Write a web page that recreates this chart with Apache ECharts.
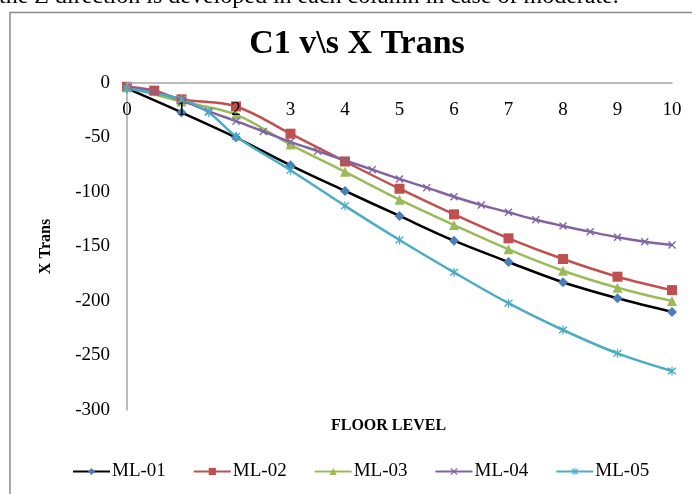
<!DOCTYPE html>
<html>
<head>
<meta charset="utf-8">
<script src="https://cdn.jsdelivr.net/npm/echarts@6/dist/echarts.min.js"></script>
<style>
  html, body { margin: 0; padding: 0; background: #fff; }
  #chart { width: 692px; height: 494px; }
</style>
</head>
<body>
<div id="chart"></div>
<script>
// Floor levels sampled by each model
const floorsML01 = [0, 1, 2, 3, 4, 5, 6, 7, 8, 9, 10];
const floorsML02 = [0, 0.5, 1, 2, 3, 4, 5, 6, 7, 8, 9, 10];
const floorsML03 = [0, 1, 2, 3, 4, 5, 6, 7, 8, 9, 10];
const floorsML04 = [0, 0.5, 1, 1.5, 2, 2.5, 3, 3.5, 4, 4.5, 5, 5.5, 6, 6.5, 7, 7.5, 8, 8.5, 9, 9.5, 10];
const floorsML05 = [0, 1, 1.5, 2, 3, 4, 5, 6, 7, 8, 9, 10];

// X translation of column C1 at each floor
const transML01 = [-5, -27, -50, -75.5, -99, -122, -144.7, -164.2, -182.8, -197.5, -210];
const transML02 = [-3.5, -7, -15, -21.5, -46.5, -72, -97, -120.5, -142.5, -161.5, -177.7, -190];
const transML03 = [-4, -17, -29, -56.5, -81.5, -107, -130.3, -152.6, -172.2, -187.8, -200];
const transML04 = [-4, -8, -16, -26, -35, -44.5, -54, -62.5, -71, -79.5, -88, -96, -104.3, -112, -118.6, -125.5, -131.2, -136.5, -141.5, -145.6, -148.6];
const transML05 = [-5, -15, -27, -49, -80, -112.7, -144, -173.7, -202, -226.6, -248, -264.2];

const seriesNames = ['ML-01', 'ML-02', 'ML-03', 'ML-04', 'ML-05'];
const xTicks = [0, 10, 1];
const yTicks = [-300, 0, 50];

const serif = '"Liberation Serif", "DejaVu Serif", serif';
const crossSymbol = 'path://M0,1.2 L1.2,0 L5,3.8 L8.8,0 L10,1.2 L6.2,5 L10,8.8 L8.8,10 L5,6.2 L1.2,10 L0,8.8 L3.8,5 Z';
const starSymbol = 'path://M0,1.2 L1.2,0 L5,3.8 L8.8,0 L10,1.2 L6.2,5 L10,8.8 L8.8,10 L5,6.2 L1.2,10 L0,8.8 L3.8,5 Z M4.3,-1 L5.7,-1 L5.7,11 L4.3,11 Z';

function pairs(xs, ys) { return xs.map((x, i) => [x, ys[i]]); }

function makeSeries(name, xs, ys, lineColor, markColor, symbol, size) {
  return {
    name: name,
    type: 'line',
    data: pairs(xs, ys),
    smooth: 0.35,
    symbol: symbol,
    symbolSize: size,
    showAllSymbol: true,
    lineStyle: { color: lineColor, width: 2.5 },
    itemStyle: { color: markColor, borderColor: markColor, borderWidth: 0 },
    emphasis: { disabled: true }
  };
}

const chart = echarts.init(document.getElementById('chart'), null, { renderer: 'canvas' });
chart.setOption({
  animation: false,
  backgroundColor: '#ffffff',
  title: {
    text: 'C1 v\\s X Trans',
    left: 352,
    textAlign: 'center',
    top: 22,
    textStyle: { fontFamily: serif, fontWeight: 'bold', fontSize: 34, color: '#000' }
  },
  graphic: [
    {
      type: 'rect',
      shape: { x: 10, y: 12.5, width: 700, height: 500 },
      style: { fill: 'none', stroke: '#8a8a8a', lineWidth: 1.5 },
      silent: true
    },
    {
      type: 'text',
      left: -1,
      top: -15,
      style: {
        text: 'the Z direction is developed in each column in case of moderate.',
        font: '24px ' + serif,
        fill: '#000'
      },
      silent: true
    }
  ],
  legend: {
    left: 67,
    top: 457,
    itemWidth: 37,
    itemHeight: 9,
    itemGap: 27,
    textStyle: { fontFamily: serif, fontSize: 19, color: '#000', padding: [0, 0, 0, -3] },
    data: seriesNames
  },
  grid: { left: 127, right: 20, top: 83, bottom: 84, containLabel: false },
  xAxis: {
    type: 'value',
    z: 10,
    min: xTicks[0],
    max: xTicks[1],
    interval: xTicks[2],
    position: 'top',
    name: 'FLOOR LEVEL',
    nameLocation: 'middle',
    nameGap: -351,
    nameTextStyle: { fontFamily: serif, fontWeight: 'bold', fontSize: 16, color: '#000', padding: [0, 0, 0, -22] },
    axisLine: { onZero: false, lineStyle: { color: '#a6a6a6', width: 1.5 } },
    axisTick: { show: false },
    splitLine: { show: false },
    axisLabel: { inside: false, margin: -37, hideOverlap: false, fontFamily: serif, fontSize: 19, color: '#000' }
  },
  yAxis: {
    type: 'value',
    min: yTicks[0],
    max: yTicks[1],
    interval: yTicks[2],
    name: 'X Trans',
    nameLocation: 'middle',
    nameRotate: 90,
    nameGap: 73,
    nameTextStyle: { fontFamily: serif, fontWeight: 'bold', fontSize: 16, color: '#000' },
    axisLine: { show: true, onZero: false, lineStyle: { color: '#a6a6a6', width: 1.5 } },
    axisTick: { show: false },
    splitLine: { show: false },
    axisLabel: { margin: 17, fontFamily: serif, fontSize: 19, color: '#000' }
  },
  series: [
    makeSeries(seriesNames[0], floorsML01, transML01, '#000000', '#4a7ebb', 'diamond', 10),
    makeSeries(seriesNames[1], floorsML02, transML02, '#c0504d', '#c0504d', 'rect', 10),
    makeSeries(seriesNames[2], floorsML03, transML03, '#9bbb59', '#9bbb59', 'triangle', 10),
    makeSeries(seriesNames[3], floorsML04, transML04, '#8064a2', '#8064a2', crossSymbol, 8),
    makeSeries(seriesNames[4], floorsML05, transML05, '#4bacc6', '#4bacc6', starSymbol, 9)
  ]
});
</script>
</body>
</html>
